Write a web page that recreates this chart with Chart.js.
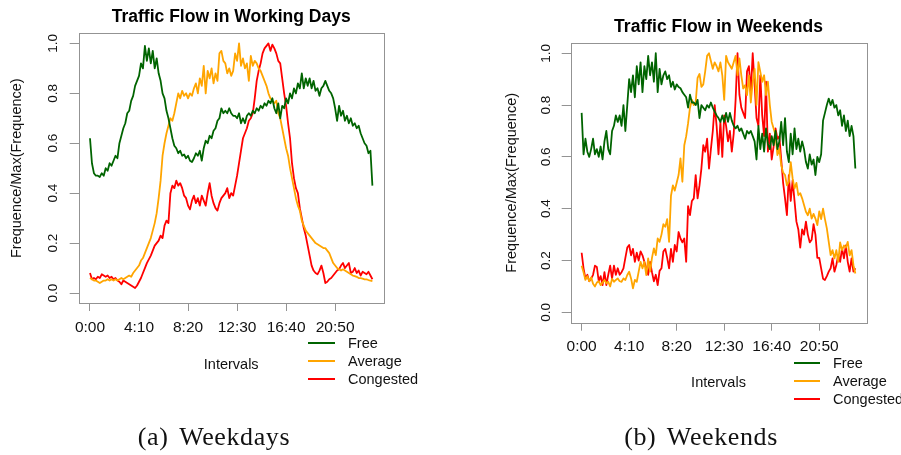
<!DOCTYPE html>
<html>
<head>
<meta charset="utf-8">
<script src="https://cdn.jsdelivr.net/npm/chart.js@4.4.1/dist/chart.umd.min.js"></script>
<style>
  html, body { margin: 0; padding: 0; background: #fff; }
  body { width: 901px; height: 455px; position: relative; overflow: hidden; font-family: "Liberation Sans", Arial, sans-serif; }
  canvas { position: absolute; top: 0; }
  .legend { position: absolute; font-size: 14.5px; color: #111; }
  .legend .row { position: relative; height: 18px; line-height: 18px; }
  .legend .swatch { position: absolute; left: 0; top: 8px; height: 2px; }
  .legend .name { position: absolute; white-space: nowrap; }
  .caption { position: absolute; top: 421px; width: 240px; text-align: center; font-family: "Liberation Serif", serif; font-size: 26px; line-height: 32px; letter-spacing: 0.6px; word-spacing: 4px; color: #111; }
</style>
</head>
<body>
<canvas id="weekdays" width="450" height="455" style="left:0"></canvas>
<canvas id="weekends" width="451" height="455" style="left:450px"></canvas>
<div class="legend" id="legendA" style="left:308px; top:334px"></div>
<div class="legend" id="legendB" style="left:794px; top:354px"></div>
<div class="caption" style="left:94px">(a) Weekdays</div>
<div class="caption" style="left:581px">(b) Weekends</div>
<script>
const FONT = '"Liberation Sans", Arial, sans-serif';

// 145 ten-minute intervals starting at 0:00
const intervals = Array.from({ length: 145 }, (_, i) => i);
const tickPositions = [0, 25, 50, 75, 100, 125];
const tickLabels = ['0:00', '4:10', '8:20', '12:30', '16:40', '20:50'];
const yTicks = [0, 0.2, 0.4, 0.6, 0.8, 1.0];

const seriesNames = ['Free', 'Average', 'Congested'];
const seriesColors = ['#006400', '#FFA500', '#FF0000'];

// frequence / max(frequence), working days
const weekdayFree = [
  0.62, 0.52, 0.48, 0.47, 0.47, 0.465, 0.48, 0.47, 0.50, 0.49,
  0.52, 0.51, 0.53, 0.55, 0.54, 0.60, 0.63, 0.66, 0.68, 0.72,
  0.73, 0.77, 0.79, 0.83, 0.85, 0.87, 0.92, 0.90, 0.99, 0.93,
  0.98, 0.92, 0.97, 0.90, 0.94, 0.88, 0.85, 0.80, 0.78, 0.73,
  0.70, 0.66, 0.62, 0.59, 0.58, 0.56, 0.57, 0.55, 0.555, 0.54,
  0.55, 0.53, 0.525, 0.54, 0.56, 0.55, 0.57, 0.53, 0.58, 0.61,
  0.60, 0.63, 0.62, 0.65, 0.66, 0.69, 0.70, 0.74, 0.72, 0.73,
  0.72, 0.74, 0.72, 0.71, 0.71, 0.70, 0.72, 0.68, 0.70, 0.68,
  0.71, 0.72, 0.71, 0.73, 0.72, 0.74, 0.73, 0.75, 0.74, 0.76,
  0.75, 0.77, 0.76, 0.78, 0.74, 0.72, 0.76, 0.70, 0.75, 0.74,
  0.78, 0.76, 0.80, 0.78, 0.82, 0.80, 0.84, 0.82, 0.88, 0.82,
  0.86, 0.83, 0.86, 0.82, 0.85, 0.81, 0.82, 0.79, 0.82, 0.83,
  0.85, 0.83, 0.81, 0.80, 0.78, 0.74, 0.69, 0.75, 0.71, 0.73,
  0.69, 0.71, 0.68, 0.70, 0.67, 0.68, 0.66, 0.67, 0.64, 0.62,
  0.60, 0.59, 0.56, 0.57, 0.43
];
const weekdayAverage = [
  0.06, 0.055, 0.05, 0.05, 0.045, 0.04, 0.045, 0.05, 0.05, 0.055,
  0.05, 0.055, 0.05, 0.055, 0.05, 0.055, 0.06, 0.055, 0.06, 0.065,
  0.07, 0.065, 0.08, 0.09, 0.10, 0.11, 0.13, 0.14, 0.16, 0.18,
  0.20, 0.22, 0.25, 0.28, 0.32, 0.38, 0.45, 0.55, 0.60, 0.64,
  0.67, 0.70, 0.69, 0.72, 0.76, 0.80, 0.78, 0.81, 0.79, 0.80,
  0.78, 0.80, 0.79, 0.82, 0.84, 0.80, 0.86, 0.83, 0.91, 0.80,
  0.89, 0.86, 0.90, 0.84, 0.88, 0.85, 0.96, 0.97, 0.93, 0.92,
  0.88, 0.90, 0.87, 0.89, 0.96, 0.93, 1.00, 0.91, 0.94, 0.90,
  0.92, 0.85, 0.95, 0.91, 0.93, 0.92, 0.90, 0.89, 0.87, 0.85,
  0.83, 0.80, 0.78, 0.77, 0.76, 0.77, 0.72, 0.70, 0.66, 0.62,
  0.58, 0.55, 0.50, 0.46, 0.42, 0.38, 0.35, 0.33, 0.29, 0.27,
  0.25, 0.24, 0.23, 0.22, 0.21, 0.20, 0.195, 0.19, 0.185, 0.18,
  0.18, 0.17, 0.16, 0.14, 0.12, 0.11, 0.10, 0.095, 0.09, 0.095,
  0.09, 0.085, 0.08, 0.075, 0.07, 0.068, 0.065, 0.06, 0.06, 0.058,
  0.055, 0.055, 0.052, 0.05, 0.048
];
const weekdayCongested = [
  0.08, 0.055, 0.06, 0.055, 0.065, 0.06, 0.075, 0.07, 0.065, 0.07,
  0.06, 0.065, 0.055, 0.06, 0.05, 0.045, 0.035, 0.05, 0.045, 0.04,
  0.035, 0.03, 0.025, 0.02, 0.03, 0.045, 0.06, 0.08, 0.10, 0.12,
  0.135, 0.15, 0.17, 0.19, 0.20, 0.21, 0.23, 0.22, 0.27, 0.29,
  0.28, 0.40, 0.43, 0.42, 0.45, 0.43, 0.44, 0.42, 0.39, 0.38,
  0.35, 0.335, 0.37, 0.39, 0.36, 0.38, 0.35, 0.39, 0.37, 0.35,
  0.40, 0.44, 0.39, 0.36, 0.34, 0.33, 0.36, 0.38, 0.39, 0.40,
  0.42, 0.38, 0.40, 0.39, 0.43, 0.47, 0.52, 0.57, 0.62, 0.64,
  0.66, 0.69, 0.70, 0.72, 0.78, 0.85, 0.89, 0.92, 0.96, 0.98,
  0.99, 1.00, 0.97, 0.995, 0.98, 0.96, 0.93, 0.92, 0.86, 0.80,
  0.75, 0.68, 0.62, 0.52, 0.46, 0.42, 0.40, 0.34, 0.30, 0.26,
  0.23, 0.19, 0.15, 0.11, 0.09, 0.08, 0.075, 0.09, 0.11, 0.08,
  0.04, 0.045, 0.055, 0.06, 0.07, 0.08, 0.09, 0.095, 0.11, 0.12,
  0.10, 0.11, 0.12, 0.08, 0.085, 0.10, 0.08, 0.09, 0.07, 0.085,
  0.08, 0.075, 0.085, 0.07, 0.055
];

// frequence / max(frequence), weekends
const weekendFree = [
  0.77, 0.61, 0.67, 0.62, 0.60, 0.63, 0.67, 0.61, 0.63, 0.60,
  0.64, 0.59, 0.66, 0.70, 0.63, 0.61, 0.70, 0.72, 0.76, 0.735,
  0.76, 0.72, 0.80, 0.70, 0.80, 0.90, 0.85, 0.915, 0.83, 0.95,
  0.88, 0.965, 0.85, 0.95, 0.90, 0.99, 0.915, 0.965, 0.89, 1.00,
  0.85, 0.94, 0.88, 0.915, 0.93, 0.90, 0.915, 0.87, 0.89, 0.86,
  0.88, 0.87, 0.865, 0.85, 0.84, 0.83, 0.79, 0.84, 0.81, 0.81,
  0.80, 0.82, 0.75, 0.80, 0.79, 0.78, 0.80, 0.79, 0.81, 0.79,
  0.775, 0.76, 0.75, 0.735, 0.76, 0.735, 0.77, 0.735, 0.77, 0.74,
  0.72, 0.71, 0.72, 0.70, 0.71, 0.69, 0.67, 0.70, 0.69, 0.70,
  0.68, 0.66, 0.59, 0.72, 0.63, 0.69, 0.62, 0.71, 0.65, 0.63,
  0.68, 0.645, 0.70, 0.63, 0.66, 0.735, 0.645, 0.75, 0.62, 0.58,
  0.69, 0.61, 0.71, 0.63, 0.67, 0.62, 0.66, 0.63, 0.58, 0.555,
  0.61, 0.57, 0.59, 0.53, 0.60, 0.58, 0.61, 0.74, 0.77, 0.80,
  0.825, 0.80, 0.82, 0.79, 0.80, 0.76, 0.78, 0.72, 0.76, 0.70,
  0.74, 0.68, 0.72, 0.68, 0.555
];
const weekendAverage = [
  0.18, 0.155, 0.125, 0.14, 0.12, 0.135, 0.11, 0.10, 0.115, 0.12,
  0.105, 0.115, 0.125, 0.112, 0.118, 0.10, 0.13, 0.118, 0.125, 0.131,
  0.12, 0.118, 0.131, 0.125, 0.144, 0.157, 0.131, 0.093, 0.125, 0.118,
  0.157, 0.195, 0.17, 0.195, 0.144, 0.208, 0.157, 0.21, 0.247, 0.221,
  0.285, 0.272, 0.30, 0.34, 0.33, 0.36, 0.272, 0.45, 0.49, 0.47,
  0.50, 0.53, 0.594, 0.504, 0.645, 0.68, 0.73, 0.79, 0.82, 0.80,
  0.81, 0.905, 0.92, 0.87, 0.88, 0.93, 0.99, 1.00, 0.97, 0.94,
  0.965, 0.95, 0.93, 0.965, 0.915, 0.82, 0.99, 0.965, 0.953, 0.94,
  0.965, 0.99, 0.915, 0.98, 0.915, 0.864, 0.877, 0.838, 0.915, 0.81,
  0.89, 0.94, 0.80, 0.966, 0.928, 0.89, 0.915, 0.838, 0.89, 0.80,
  0.735, 0.71, 0.684, 0.607, 0.632, 0.568, 0.54, 0.53, 0.49, 0.504,
  0.58, 0.517, 0.478, 0.50, 0.452, 0.46, 0.44, 0.414, 0.388, 0.375,
  0.40, 0.362, 0.38, 0.362, 0.337, 0.39, 0.36, 0.40, 0.36, 0.324,
  0.272, 0.221, 0.24, 0.208, 0.24, 0.195, 0.27, 0.24, 0.258, 0.25,
  0.272, 0.22, 0.24, 0.182, 0.15
];
const weekendCongested = [
  0.23, 0.17, 0.13, 0.145, 0.12, 0.13, 0.145, 0.18, 0.175, 0.12,
  0.14, 0.105, 0.155, 0.105, 0.145, 0.18, 0.13, 0.18, 0.145, 0.17,
  0.145, 0.155, 0.17, 0.21, 0.25, 0.26, 0.22, 0.245, 0.195, 0.23,
  0.20, 0.235, 0.22, 0.195, 0.17, 0.145, 0.195, 0.155, 0.12, 0.145,
  0.105, 0.16, 0.17, 0.235, 0.245, 0.21, 0.17, 0.245, 0.195, 0.26,
  0.235, 0.31, 0.285, 0.27, 0.285, 0.195, 0.41, 0.375, 0.43, 0.44,
  0.53, 0.44, 0.49, 0.555, 0.645, 0.62, 0.67, 0.555, 0.63, 0.70,
  0.80, 0.72, 0.61, 0.735, 0.60, 0.76, 0.72, 0.66, 0.70, 0.62,
  0.69, 0.82, 1.00, 0.84, 0.79, 0.77, 0.75, 0.93, 0.95, 0.85,
  1.00, 0.88, 0.75, 0.72, 0.915, 0.76, 0.68, 0.89, 0.62, 0.69,
  0.59, 0.64, 0.71, 0.67, 0.68, 0.59, 0.50, 0.44, 0.375, 0.53,
  0.43, 0.51, 0.43, 0.35, 0.32, 0.25, 0.32, 0.30, 0.35, 0.30,
  0.27, 0.28, 0.34, 0.30, 0.21, 0.21, 0.17, 0.13, 0.125, 0.14,
  0.157, 0.17, 0.208, 0.157, 0.183, 0.221, 0.195, 0.247, 0.208, 0.258,
  0.195, 0.157, 0.208, 0.157, 0.17
];

const BOX = '#939393';

// R-style box around the plotting region
const framePlugin = {
  id: 'frame',
  afterDatasetsDraw(chart) {
    const { ctx, chartArea: a } = chart;
    ctx.save();
    ctx.strokeStyle = BOX;
    ctx.lineWidth = 1;
    ctx.strokeRect(Math.round(a.left) + 0.5, Math.round(a.top) + 0.5,
      Math.round(a.right - a.left), Math.round(a.bottom - a.top));
    ctx.restore();
  }
};

function makeChart(id, title, series, g) {
  const datasets = series.map((values, k) => ({
    label: seriesNames[k],
    data: values.map((v, i) => ({ x: intervals[i], y: v })),
    borderColor: seriesColors[k],
    borderWidth: 1.8,
    borderJoinStyle: 'round',
    pointRadius: 0,
    tension: 0,
    fill: false
  }));

  return new Chart(document.getElementById(id), {
    type: 'line',
    data: { datasets },
    plugins: [framePlugin],
    options: {
      responsive: false,
      animation: false,
      layout: { padding: { left: 0, top: 0, right: g.right, bottom: 0 } },
      plugins: {
        legend: { display: false },
        tooltip: { enabled: false },
        title: {
          display: true,
          text: title,
          fullSize: false,
          color: '#000',
          font: { family: FONT, size: 17.5, weight: 'bold' },
          padding: { top: g.titleTop, bottom: g.titleBottom }
        }
      },
      scales: {
        x: {
          type: 'linear',
          min: -5.76,
          max: 149.76,
          afterBuildTicks: s => { s.ticks = tickPositions.map(v => ({ value: v })); },
          afterFit: s => { s.height = g.xHeight; },
          ticks: {
            autoSkip: false,
            maxRotation: 0,
            padding: g.xTickPad,
            color: '#111',
            font: { family: FONT, size: 15.5 },
            callback: v => tickLabels[tickPositions.indexOf(v)]
          },
          grid: { drawOnChartArea: false, drawTicks: true, tickLength: 8, color: BOX },
          border: { display: false },
          title: {
            display: true,
            text: 'Intervals',
            color: '#111',
            font: { family: FONT, size: 14.5 },
            padding: { top: 0, bottom: g.xTitleBottom }
          }
        },
        y: {
          min: -0.04,
          max: 1.04,
          afterBuildTicks: s => { s.ticks = yTicks.map(v => ({ value: v })); },
          afterFit: s => { s.width = g.yWidth; },
          ticks: {
            minRotation: 90,
            maxRotation: 90,
            crossAlign: 'center',
            padding: g.yTickPad,
            color: '#111',
            font: { family: FONT, size: 13.5 },
            callback: v => v.toFixed(1)
          },
          grid: { drawOnChartArea: false, drawTicks: true, tickLength: 9, color: BOX },
          border: { display: false },
          title: {
            display: true,
            text: 'Frequence/Max(Frequence)',
            color: '#111',
            font: { family: FONT, size: 14.5 },
            padding: { top: g.yTitleTop, bottom: 0 }
          }
        }
      }
    }
  });
}

function buildLegend(el, chart, swatchWidth, textLeft) {
  chart.data.datasets.forEach(ds => {
    const row = document.createElement('div');
    row.className = 'row';
    const sw = document.createElement('span');
    sw.className = 'swatch';
    sw.style.width = swatchWidth + 'px';
    sw.style.background = ds.borderColor;
    const name = document.createElement('span');
    name.className = 'name';
    name.style.left = textLeft + 'px';
    name.textContent = ds.label;
    row.appendChild(sw);
    row.appendChild(name);
    el.appendChild(row);
  });
}

const weekdayChart = makeChart('weekdays', 'Traffic Flow in Working Days',
  [weekdayFree, weekdayAverage, weekdayCongested],
  { right: 66.3, yWidth: 78.7, xHeight: 152, titleTop: 7, titleBottom: 5.4,
    xTickPad: 7, yTickPad: 7.5, xTitleBottom: 81.5, yTitleTop: 8.3 });

const weekendChart = makeChart('weekends', 'Traffic Flow in Weekends',
  [weekendFree, weekendAverage, weekendCongested],
  { right: 34.7, yWidth: 120.7, xHeight: 132.3, titleTop: 16.3, titleBottom: 5.6,
    xTickPad: 7, yTickPad: 5.6, xTitleBottom: 63.2, yTitleTop: 53 });

buildLegend(document.getElementById('legendA'), weekdayChart, 27, 40);
buildLegend(document.getElementById('legendB'), weekendChart, 26, 39);
</script>
</body>
</html>
